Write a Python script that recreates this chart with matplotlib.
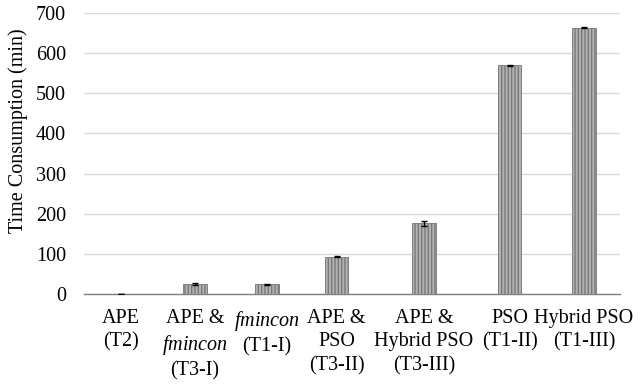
import matplotlib
matplotlib.use('Agg')
import matplotlib.pyplot as plt

plt.rcParams['font.family'] = ['Liberation Serif', 'DejaVu Serif']
plt.rcParams['mathtext.fontset'] = 'custom'
plt.rcParams['mathtext.rm'] = 'Liberation Serif'
plt.rcParams['mathtext.it'] = 'Liberation Serif:italic'
plt.rcParams['hatch.color'] = 'black'
plt.rcParams['hatch.linewidth'] = 1.0

# data
labels = ['APE\n(T2)', 'APE &\n$\\mathit{fmincon}$\n(T3-I)', '$\\mathit{fmincon}$\n(T1-I)',
          'APE &\nPSO\n(T3-II)', 'APE &\nHybrid PSO\n(T3-III)', 'PSO\n(T1-II)', 'Hybrid PSO\n(T1-III)']
times = [0.5, 25, 24, 93, 176, 570, 663]
errors = [0.5, 1.5, 1, 1, 6, 1, 1]
# category slots (slightly uneven, as in the source figure)
xpos = [-0.02, 0.95, 1.89, 2.80, 3.94, 5.06, 6.03]

fig = plt.figure(figsize=(6.43, 3.85), dpi=100)
ax = fig.add_axes([0.1306, 0.2364, 0.8334, 0.7298])

ax.bar(xpos, times, width=0.31, color='#b3b3b3', hatch='|||||', edgecolor='#777777',
       linewidth=0.6, yerr=errors, capsize=2,
       error_kw=dict(ecolor='black', elinewidth=1, capthick=1), zorder=3)

ax.set_xlim(-0.5, 6.5)
ax.set_ylim(0, 700)
ax.set_yticks(range(0, 701, 100))
ax.set_xticks(xpos)
ax.set_xticklabels(labels, fontsize=14, linespacing=1.3)
ax.tick_params(axis='both', length=0, labelsize=14.5, colors='black')
ax.tick_params(axis='x', pad=11)
ax.tick_params(axis='y', pad=13)
ax.grid(axis='y', color='#d9d9d9', linewidth=1, zorder=0)
for s in ['top', 'right', 'left']:
    ax.spines[s].set_visible(False)
ax.spines['bottom'].set_color('#7f7f7f')
ax.spines['bottom'].set_linewidth(1)

ax.set_ylabel('Time Consumption (min)', fontsize=14.5)
ax.yaxis.set_label_coords(-0.105, 0.58)

fig.savefig('out.png', dpi=100, facecolor='white')
